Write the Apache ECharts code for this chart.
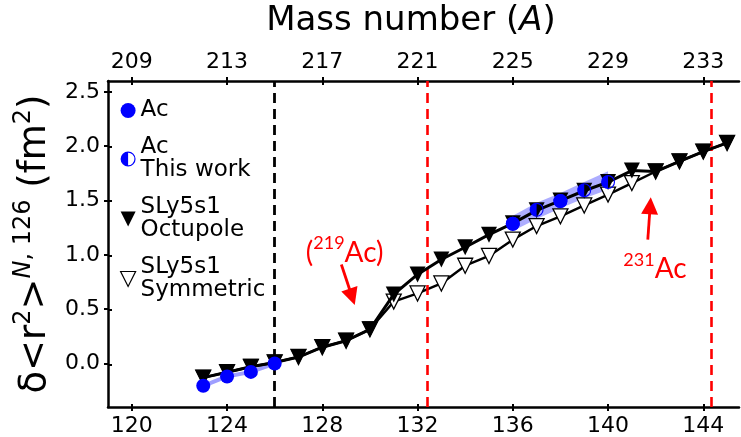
<!DOCTYPE html>
<html>
<head>
<meta charset="utf-8">
<script src="https://cdn.jsdelivr.net/npm/echarts@6/dist/echarts.min.js"></script>
<style>
html,body{margin:0;padding:0;background:#fff;}
#chart{width:741px;height:437px;}
</style>
</head>
<body>
<div id="chart"></div>
<script>
// ---- data ----
const modelN = [123,124,125,126,127,128,129,130,131,132,133,134,135,136,137,138,139,140,141,142,143,144,145];
const octupole = [-0.13,-0.08,-0.03,0.01,0.06,0.15,0.21,0.315,0.636,0.82,0.957,1.07,1.186,1.29,1.41,1.50,1.59,1.67,1.776,1.767,1.86,1.95,2.03];
const symmetric = [-0.13,-0.08,-0.03,0.01,0.06,0.15,0.21,0.315,0.57,0.645,0.737,0.90,0.99,1.14,1.265,1.355,1.455,1.555,1.66,1.767,1.86,1.95,2.03];
const acLowN = [123,124,125,126];
const acLowVal = [-0.205,-0.119,-0.077,0.0];
const acHighN = [136,138];
const acHighVal = [1.287,1.495];
const workN = [136,137,138,139,140];
const workVal = [1.287,1.415,1.495,1.595,1.67];
const bandLow = [1.22,1.33,1.43,1.52,1.60];
const bandHigh = [1.36,1.48,1.57,1.67,1.77];
const bottomTicks = [120,124,128,132,136,140,144];
const topTicks = [209,213,217,221,225,229,233];
const yTicks = [0,0.5,1.0,1.5,2.0,2.5];
const blackDashN = [126];
const redDashN = [132.42,144.35];
const arrow219 = [[128.80,0.911],[129.25,0.614]];
const arrow231 = [[141.67,1.141],[141.77,1.452]];
const label219 = [128.94,1.04];
const label231 = [141.97,0.888];

const FONT = 'DejaVu Sans';
const xMin = 119, xMax = 145.5, yMin = -0.4, yMax = 2.6, aOffset = 89;
const triDown = 'path://M-1,-1 L1,-1 L0,1 Z';
const halfCircle = 'path://M0,-10 A10,10 0 0 0 0,10 Z M0,-10 A10,10 0 0 1 0,10 L0,8.4 A8.4,8.4 0 0 0 0,-8.4 Z';
const pairs = (xs, ys) => xs.map((x,i)=>[x, ys[i]]);

const chart = echarts.init(document.getElementById('chart'), null, {renderer:'canvas'});
const gridRect = {left:108, top:81, width:631, height:327};

const axisLineStyle = {color:'#000', width:2.5};
const labelStyle = {fontFamily:FONT, fontSize:22, color:'#000'};

const option = {
  animation:false,
  backgroundColor:'#fff',
  grid:[Object.assign({}, gridRect), Object.assign({}, gridRect)],
  graphic:[{
    type:'text', x:411, y:4,
    style:{text:'Mass number ({i|A})', fontFamily:FONT, fontSize:34, fill:'#000', align:'center',
      rich:{i:{fontStyle:'italic', fontFamily:FONT, fontSize:34}}}
  }],
  xAxis:[
    {type:'value', gridIndex:0, position:'bottom', min:xMin, max:xMax,
     axisLine:{show:true, onZero:false, lineStyle:axisLineStyle},
     axisTick:{show:true, length:4, customValues:bottomTicks, lineStyle:{color:'#000', width:2}},
     axisLabel:Object.assign({customValues:bottomTicks, margin:8}, labelStyle),
     splitLine:{show:false}},
    {type:'value', gridIndex:0, position:'top', min:xMin+aOffset, max:xMax+aOffset,
     axisLine:{show:true, onZero:false, lineStyle:axisLineStyle},
     axisTick:{show:true, length:4, customValues:topTicks, lineStyle:{color:'#000', width:2}},
     axisLabel:Object.assign({customValues:topTicks, margin:8}, labelStyle),
     splitLine:{show:false}},
    {type:'value', gridIndex:1, position:'bottom', min:xMin, max:xMax,
     axisLine:{show:false, onZero:false},
     axisTick:{show:true, inside:true, length:4, customValues:bottomTicks, lineStyle:{color:'#000', width:2}},
     axisLabel:{show:false}, splitLine:{show:false}},
    {type:'value', gridIndex:1, position:'top', min:xMin+aOffset, max:xMax+aOffset,
     axisLine:{show:false, onZero:false},
     axisTick:{show:true, inside:true, length:4, customValues:topTicks, lineStyle:{color:'#000', width:2}},
     axisLabel:{show:false}, splitLine:{show:false}}
  ],
  yAxis:[
    {type:'value', gridIndex:0, position:'left', min:yMin, max:yMax,
     axisLine:{show:true, onZero:false, lineStyle:axisLineStyle},
     axisTick:{show:true, length:4, customValues:yTicks, lineStyle:{color:'#000', width:2}},
     axisLabel:Object.assign({customValues:yTicks, margin:8, formatter:v=>v.toFixed(1)}, labelStyle),
     splitLine:{show:false},
     name:'{m|δ<r}{s|2}{m|>}{si|N}{s|, 126}{m| (fm}{s|2}{m|)}',
     nameLocation:'middle', nameRotate:90, nameGap:51,
     nameTextStyle:{fontFamily:FONT, color:'#000',
       rich:{
         m:{fontFamily:FONT, fontSize:37, lineHeight:42, verticalAlign:'bottom', color:'#000'},
         s:{fontFamily:FONT, fontSize:24, lineHeight:26, verticalAlign:'top', color:'#000'},
         si:{fontFamily:FONT, fontSize:24, lineHeight:26, verticalAlign:'top', fontStyle:'italic', color:'#000'}
       }}},
    {type:'value', gridIndex:1, position:'left', min:yMin, max:yMax,
     axisLine:{show:false, onZero:false},
     axisTick:{show:true, inside:true, length:4, customValues:yTicks, lineStyle:{color:'#000', width:2}},
     axisLabel:{show:false}, splitLine:{show:false}}
  ],
  legend:{
    orient:'vertical', left:120, top:99, padding:0, itemGap:14, itemWidth:15, itemHeight:15,
    selectedMode:false,
    textStyle:{fontFamily:FONT, fontSize:23, lineHeight:23, color:'#000'},
    data:[
      {name:'Ac', icon:'circle', itemStyle:{color:'#0000ff', borderWidth:0, opacity:1}},
      {name:'Ac\nThis work', icon:halfCircle, itemStyle:{color:'#0000ff', borderWidth:0, opacity:1}},
      {name:'SLy5s1\nOctupole', icon:triDown, itemStyle:{color:'#000', borderWidth:0}},
      {name:'SLy5s1\nSymmetric', icon:triDown, itemStyle:{color:'#fff', borderColor:'#000', borderWidth:1.2}}
    ]
  },
  series:[
    {
      name:'guides', type:'line', data:[], z:1, silent:true,
      markLine:{
        silent:true, animation:false, label:{show:false}, symbol:['none','none'],
        emphasis:{disabled:true},
        data:[
          ...blackDashN.map(n=>({xAxis:n, lineStyle:{color:'#000', type:[10,6], width:2.8}})),
          ...redDashN.map(n=>({xAxis:n, lineStyle:{color:'#ff0000', type:[10,6], width:2.6}}))
        ]
      }
    },
    {
      name:'band', type:'custom', z:2, silent:true,
      data:[[workN[0], workVal[0]]],
      renderItem:(params, api)=>{
        if (params.dataIndex !== 0) return;
        const pts = [];
        for (let i=0;i<workN.length;i++) pts.push(api.coord([workN[i], bandHigh[i]]));
        for (let i=workN.length-1;i>=0;i--) pts.push(api.coord([workN[i], bandLow[i]]));
        return {type:'polygon', shape:{points:pts, smooth:0}, style:{fill:'rgba(40,40,255,0.38)'}};
      }
    },
    {
      name:'acLine', type:'line', z:3, silent:true, data:pairs(acLowN, acLowVal),
      symbol:'none', lineStyle:{color:'rgba(40,40,255,0.45)', width:4}
    },
    {
      name:'SLy5s1\nSymmetric', type:'line', z:4, silent:true, data:pairs(modelN, symmetric),
      symbol:triDown, symbolSize:15,
      lineStyle:{color:'#000', width:2.4},
      itemStyle:{color:'#fff', borderColor:'#000', borderWidth:1.3}
    },
    {
      name:'SLy5s1\nOctupole', type:'line', z:5, silent:true, data:pairs(modelN, octupole),
      symbol:triDown, symbolSize:16,
      lineStyle:{color:'#000', width:3},
      itemStyle:{color:'#000'}
    },
    {
      name:'Ac', type:'scatter', z:6, silent:true,
      data:pairs(acLowN, acLowVal).concat(pairs(acHighN, acHighVal)),
      symbol:'circle', symbolSize:14, itemStyle:{color:'#0000ff', opacity:1}
    },
    {
      name:'Ac\nThis work', type:'scatter', z:7, silent:true, data:pairs(workN, workVal),
      symbol:halfCircle, symbolSize:14, itemStyle:{color:'#0000ff', opacity:1}
    },
    {
      name:'annotations', type:'scatter', z:8, silent:true,
      symbolSize:1, itemStyle:{color:'rgba(0,0,0,0)', opacity:1},
      label:{show:true, position:'inside', align:'center', verticalAlign:'middle', color:'#ff0000',
        rich:{
          b:{fontFamily:'Lato', fontSize:28, lineHeight:32, verticalAlign:'bottom', color:'#ff0000'},
          s:{fontFamily:'Lato', fontSize:18, lineHeight:19, verticalAlign:'top', color:'#ff0000'}
        }},
      data:[
        {value:label219, label:{formatter:'{b|(}{s|219}{b|Ac)}'}},
        {value:label231, label:{formatter:'{s|231}{b|Ac}'}}
      ],
      markLine:{
        silent:true, animation:false, label:{show:false},
        lineStyle:{color:'#ff0000', type:'solid', width:2.8},
        data:[
          [{coord:arrow219[0], symbol:'none'}, {coord:arrow219[1], symbol:'triangle', symbolSize:17}],
          [{coord:arrow231[0], symbol:'none'}, {coord:arrow231[1], symbol:'triangle', symbolSize:17}]
        ]
      }
    }
  ]
};
chart.setOption(option);
</script>
</body>
</html>
